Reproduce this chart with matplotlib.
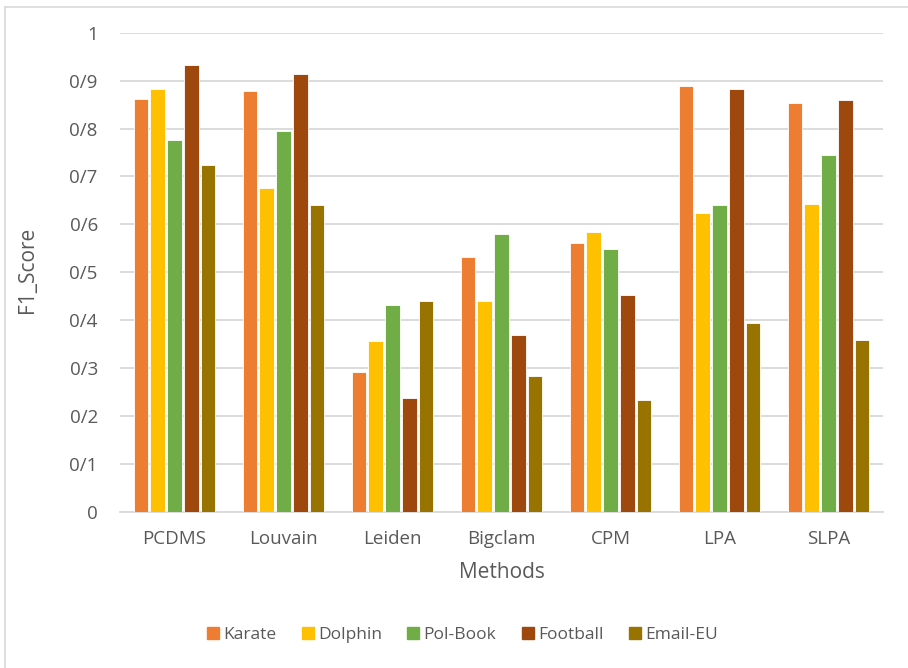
import matplotlib
matplotlib.use("Agg")
import matplotlib.pyplot as plt
import numpy as np
from matplotlib.lines import Line2D

plt.rcParams['font.family'] = ['Open Sans', 'DejaVu Sans']

methods = ["PCDMS", "Louvain", "Leiden", "Bigclam", "CPM", "LPA", "SLPA"]
series_names = ["Karate", "Dolphin", "Pol-Book", "Football", "Email-EU"]
karate   = [0.862, 0.879, 0.292, 0.532, 0.561, 0.888, 0.853]
dolphin  = [0.883, 0.675, 0.356, 0.440, 0.584, 0.624, 0.643]
polbook  = [0.777, 0.794, 0.431, 0.580, 0.549, 0.640, 0.744]
football = [0.933, 0.914, 0.238, 0.368, 0.453, 0.883, 0.860]
emaileu  = [0.723, 0.641, 0.440, 0.283, 0.233, 0.393, 0.358]
ytick_values = [0, 0.1, 0.2, 0.3, 0.4, 0.5, 0.6, 0.7, 0.8, 0.9, 1.0]
ytick_labels = ["0", "0/1", "0/2", "0/3", "0/4", "0/5", "0/6", "0/7", "0/8", "0/9", "1"]
colors = ["#ED7D31", "#FFC000", "#70AD47", "#9E480E", "#997300"]

data = [karate, dolphin, polbook, football, emaileu]

fig = plt.figure(figsize=(9.08, 6.68), dpi=100)
ax = fig.add_axes([120/908, 1-511.7/668, (883-120)/908, (511.7-32.7)/668])

x = np.arange(len(methods))
pitch = 0.154
width = 0.135
for i, (vals, c) in enumerate(zip(data, colors)):
    ax.bar(x + (i - 2) * pitch, vals, width=width, color=c, edgecolor="white",
           linewidth=0.6, label=series_names[i], zorder=3)

ax.set_xlim(-0.5, len(methods) - 0.5)
ax.set_ylim(0, 1)
ax.set_yticks(ytick_values)
ax.set_yticklabels(ytick_labels)
ax.set_xticks(x)
ax.set_xticklabels(methods)
ax.grid(axis="y", color="#D9D9D9", linewidth=1.3, zorder=0)
for s in ["top", "right", "left"]:
    ax.spines[s].set_visible(False)
ax.spines["bottom"].set_color("#D9D9D9")
ax.spines["bottom"].set_linewidth(1.3)
ax.tick_params(axis="both", length=0, colors="#595959", labelsize=13.5)
ax.tick_params(axis="x", pad=13)
ax.tick_params(axis="y", pad=16)

fig.text(28/908, 1-270/668, "F1_Score", rotation=90, ha="center", va="center",
         fontsize=15, color="#595959")
fig.text(502/908, 1-573/668, "Methods", ha="center", va="center",
         fontsize=15, color="#595959")

handles = [Line2D([0], [0], marker="s", linestyle="none", markersize=8,
                  markerfacecolor=c, markeredgecolor=c) for c in colors]
fig.legend(handles, series_names, loc="center", bbox_to_anchor=(461/908, 1-635/668),
           ncol=5, frameon=False, fontsize=12.5, labelcolor="#595959",
           handletextpad=0.1, columnspacing=1.3, handlelength=1.0)

# chart border (top and left visible)
fig.add_artist(Line2D([5/908, 1], [1-7/668, 1-7/668], color="#D9D9D9", linewidth=1.2))
fig.add_artist(Line2D([5/908, 5/908], [0, 1-7/668], color="#D9D9D9", linewidth=1.2))

fig.savefig("out.png", dpi=100, facecolor="white")
